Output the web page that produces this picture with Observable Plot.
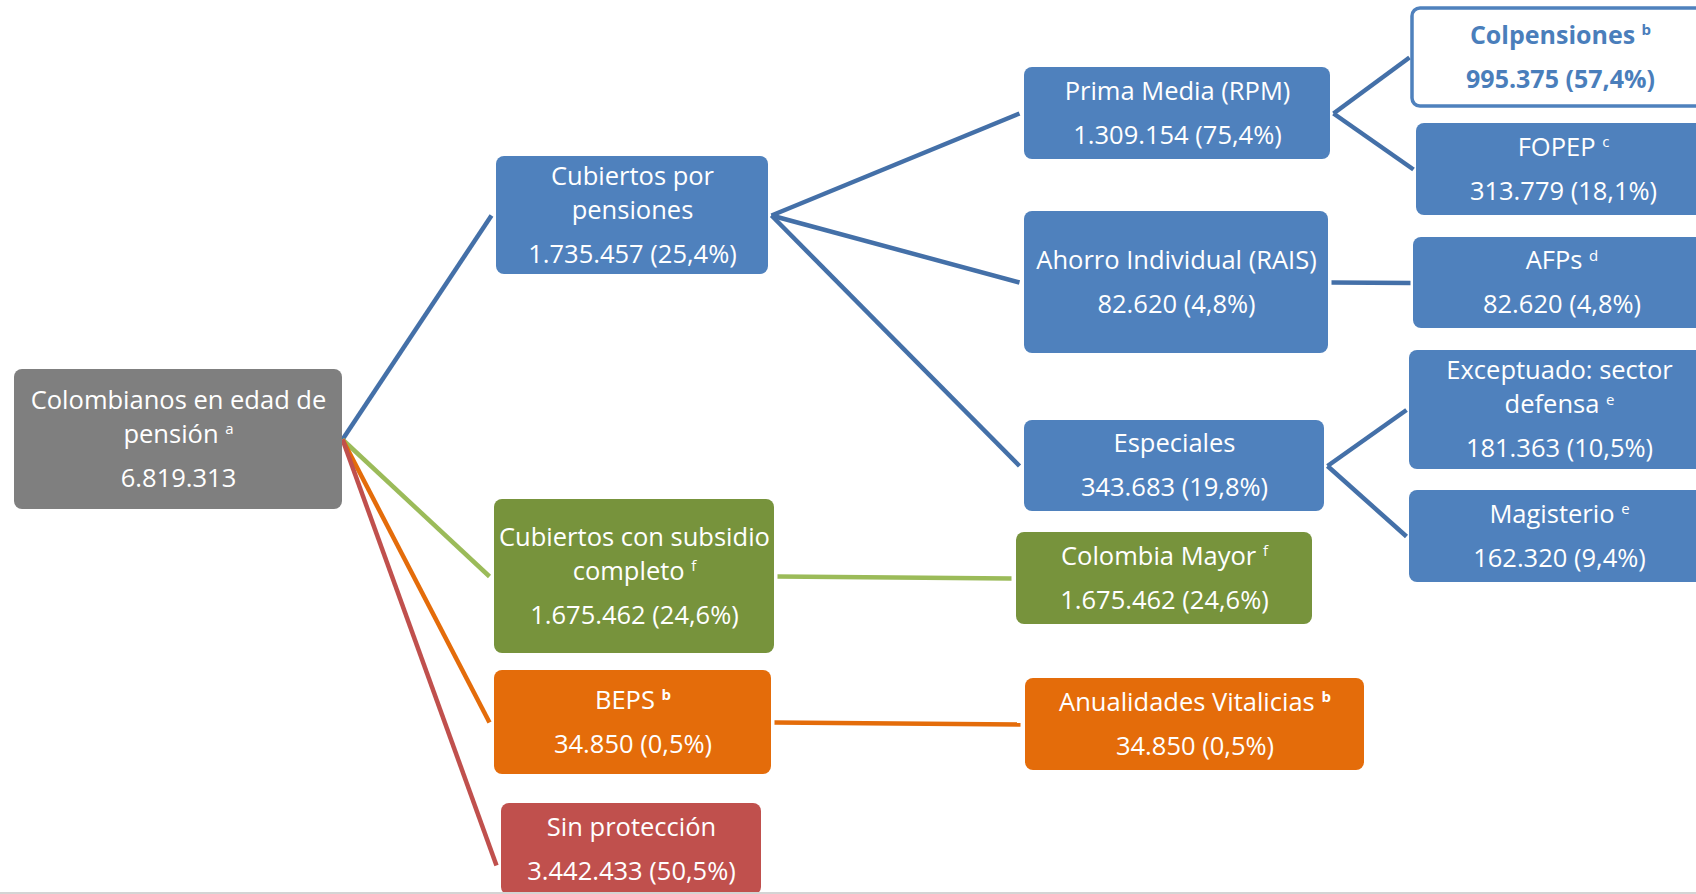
<!DOCTYPE html>
<html><head><meta charset="utf-8">
<script src="https://cdn.jsdelivr.net/npm/d3@7"></script>
<script src="https://cdn.jsdelivr.net/npm/@observablehq/plot@0.6"></script>
<style>html,body{margin:0;padding:0;background:#fff;overflow:hidden}</style>
</head><body><div id="chart"></div>
<script>
// ---- data ----
const categories = [
  "Colombianos en edad de\npensión",
  "Cubiertos por\npensiones",
  "Cubiertos con subsidio\ncompleto",
  "BEPS",
  "Sin protección",
  "Prima Media (RPM)",
  "Ahorro Individual (RAIS)",
  "Especiales",
  "Colombia Mayor",
  "Anualidades Vitalicias",
  "Colpensiones",
  "FOPEP",
  "AFPs",
  "Exceptuado: sector\ndefensa",
  "Magisterio"
];
const values = [6819313, 1735457, 1675462, 34850, 3442433, 1309154, 82620, 343683, 1675462, 34850, 995375, 313779, 82620, 181363, 162320];
const shares = [null, 25.4, 24.6, 0.5, 50.5, 75.4, 4.8, 19.8, 24.6, 0.5, 57.4, 18.1, 4.8, 10.5, 9.4];
const notes = ["a", "", "f", "b", "", "", "", "", "f", "b", "b", "c", "d", "e", "e"];
const parents = [null, 0, 0, 0, 0, 1, 1, 1, 2, 3, 5, 5, 6, 7, 7];
const groups = ["total", "pension", "subsidio", "beps", "sin", "pension", "pension", "pension", "subsidio", "beps", "highlight", "pension", "pension", "pension", "pension"];

// ---- layout (pixel boxes: x0, x1, y0, y1) ----
const layout = [
  [14, 342, 369, 509],
  [496, 768, 156, 274],
  [494, 774, 499, 653],
  [494, 771, 670, 774],
  [501, 761, 803, 895],
  [1024, 1330, 67, 159],
  [1024, 1328, 211, 353],
  [1024, 1324, 420, 511],
  [1016, 1312, 532, 624],
  [1025, 1364, 678, 770],
  [1412, 1708, 8, 106],
  [1416, 1710, 123, 215],
  [1413, 1710, 237, 328],
  [1409, 1709, 350, 469],
  [1409, 1709, 490, 582]
];
const anchorOverride = {4: 865};

const boxFill = {total: "#7F7F7F", pension: "#4F81BD", subsidio: "#77933C", beps: "#E46C0A", sin: "#C0504D", highlight: "#FFFFFF"};
const lineColor = {pension: "#4470A8", subsidio: "#9BBB59", beps: "#E46C0A", sin: "#C0504D", highlight: "#4470A8"};

const loc = d3.formatLocale({decimal: ",", thousands: ".", grouping: [3], currency: ["$", ""]});
const fInt = loc.format(",d"), fPct = loc.format(".1f");

const boxes = categories.map((c, i) => {
  const [x0, x1, y0, y1] = layout[i];
  return {i, x0, x1, y0, y1, g: groups[i], mid: (y0 + y1) / 2};
});

const links = [];
boxes.forEach((b, i) => {
  const p = parents[i];
  if (p == null) return;
  const pb = boxes[p];
  links.push({
    x1: pb.x1 + (p === 0 ? 0 : 3), y1: pb.mid,
    x2: b.x0 - (p >= 5 ? 3 : 5), y2: anchorOverride[i] ?? b.mid,
    stroke: lineColor[groups[i]]
  });
});

const rows = [];
boxes.forEach((b, i) => {
  const lines = categories[i].split("\n");
  const n = lines.length;
  const blockH = (n - 1) * 34 + 44;
  let y = b.mid - blockH / 2;
  const cx = (b.x0 + b.x1) / 2;
  lines.forEach((l, k) => {
    const t = (k === n - 1 && notes[i]) ? l + "^" + notes[i] : l;
    rows.push({x: cx, y: y + k * 34, text: t, g: b.g});
  });
  const v = shares[i] == null ? fInt(values[i]) : `${fInt(values[i])} (${fPct(shares[i])}%)`;
  rows.push({x: cx, y: y + (n - 1) * 34 + 44, text: v, g: b.g});
});

const W = 1696, H = 894;
const font = "'Open Sans', sans-serif";
const plot = Plot.plot({
  width: W, height: H,
  margin: 0,
  x: {domain: [0, W], range: [0, W], axis: null},
  y: {domain: [0, H], range: [0, H], axis: null},
  style: {overflow: "hidden", background: "#fff"},
  marks: [
    Plot.link(links, {x1: "x1", y1: "y1", x2: "x2", y2: "y2", stroke: d => d.stroke, strokeWidth: 4.5}),
    Plot.rect(boxes, {
      x1: "x0", x2: "x1", y1: "y0", y2: "y1", rx: 8,
      fill: d => boxFill[d.g],
      stroke: d => d.g === "highlight" ? "#4F81BD" : "none",
      strokeWidth: 3.5
    }),
    Plot.text(rows.filter(d => d.g !== "highlight"), {
      x: "x", y: "y", text: "text", fill: "#FFFFFF",
      fontSize: 25.5, fontFamily: font,
      lineAnchor: "middle", textAnchor: "middle"
    }),
    Plot.text(rows.filter(d => d.g === "highlight"), {
      x: "x", y: "y", text: "text", fill: "#4A7EBB",
      fontSize: 25, fontWeight: "bold", fontFamily: font,
      lineAnchor: "middle", textAnchor: "middle"
    }),
    Plot.ruleY([893], {stroke: "#D4D4D4", strokeWidth: 3})
  ]
});

// superscript notes
plot.querySelectorAll("text").forEach(t => {
  const s = t.textContent;
  if (s.includes("^")) {
    const [main, sup] = s.split("^");
    t.textContent = main + " ";
    const ts = document.createElementNS("http://www.w3.org/2000/svg", "tspan");
    ts.setAttribute("dy", "-0.55em");
    ts.setAttribute("font-size", "15");
    if (sup === "b") ts.setAttribute("font-weight", "bold");
    ts.textContent = sup;
    t.appendChild(ts);
  }
});
document.getElementById("chart").appendChild(plot);
</script></body></html>
